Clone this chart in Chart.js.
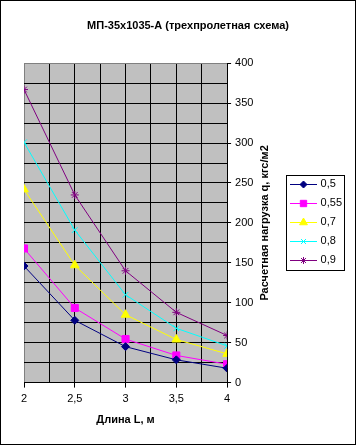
<!DOCTYPE html>
<html><head><meta charset="utf-8">
<style>html,body{margin:0;padding:0;background:#fff;overflow:hidden}</style>
<script src="https://cdn.jsdelivr.net/npm/chart.js@4/dist/chart.umd.min.js"></script>
</head><body>
<canvas id="c" width="356" height="445"></canvas>
<script>
const chartTitle = 'МП-35х1035-А (трехпролетная схема)';
const xTitle = 'Длина L, м';
const yTitle = 'Расчетная нагрузка q, кгс/м2';
const lengths = [2, 2.5, 3, 3.5, 4];
const seriesNames = ['0,5', '0,55', '0,7', '0,8', '0,9'];
const load05 = [146, 78, 45, 28.5, 18];
const load055 = [168, 93.5, 54.5, 34, 23];
const load07 = [242, 147, 85, 54, 36];
const load08 = [301, 191, 110, 68, 46];
const load09 = [367, 235, 140, 88, 59];
const seriesValues = [load05, load055, load07, load08, load09];
const seriesColors = ['#000080', '#FF00FF', '#FFFF00', '#00FFFF', '#800080'];
const seriesMarkers = ['rectRot', 'rect', 'triangle', 'crossRot', 'star'];
const seriesRadius = [4, 5, 5, 4, 4];
const FONT = "'Liberation Sans', Arial, sans-serif";

const datasets = seriesNames.map((name, i) => ({
  label: name,
  data: lengths.map((x, j) => ({x: x, y: seriesValues[i][j]})),
  borderColor: seriesColors[i],
  backgroundColor: seriesColors[i],
  pointBackgroundColor: seriesColors[i],
  pointBorderColor: seriesColors[i],
  pointStyle: seriesMarkers[i],
  pointRadius: seriesRadius[i],
  pointBorderWidth: 1,
  borderWidth: 1,
  tension: 0,
  fill: false
}));

const decor = {
  id: 'decor',
  beforeDraw(chart) {
    const ctx = chart.ctx, a = chart.chartArea;
    ctx.save();
    ctx.fillStyle = '#fff';
    ctx.fillRect(0, 0, chart.width, chart.height);
    ctx.fillStyle = '#C0C0C0';
    ctx.fillRect(a.left, a.top, a.right - a.left, a.bottom - a.top);
    ctx.restore();
  },
  afterDraw(chart) {
    const ctx = chart.ctx, a = chart.chartArea;
    ctx.save();
    ctx.fillStyle = '#000';
    ctx.font = 'bold 11px ' + FONT;
    ctx.textAlign = 'center';
    ctx.textBaseline = 'middle';
    ctx.translate(265, (a.top + a.bottom) / 2);
    ctx.rotate(-Math.PI / 2);
    ctx.fillText(yTitle, 0, 0);
    ctx.restore();
    const lg = chart.legend;
    if (lg && lg.legendHitBoxes && lg.legendHitBoxes.length) {
      const hbs = lg.legendHitBoxes;
      const bw = lg.options.labels.boxWidth;
      const fs = 11;
      ctx.save();
      const centers = hbs.map(h => Math.round(h.top + fs / 2) + 0.5);
      hbs.forEach((hb, i) => {
        const cy = centers[i];
        ctx.strokeStyle = seriesColors[i];
        ctx.lineWidth = 1;
        ctx.beginPath();
        ctx.moveTo(Math.round(hb.left), cy);
        ctx.lineTo(Math.round(hb.left) + bw + 2, cy);
        ctx.stroke();
        ctx.fillStyle = seriesColors[i];
        Chart.helpers.drawPoint(ctx, {pointStyle: seriesMarkers[i], radius: seriesRadius[i] - 0.5, borderWidth: 1, rotation: 0},
          Math.round(hb.left) + (bw + 2) / 2, cy);
      });
      const l = Math.round(Math.min(...hbs.map(h => h.left)) - 4) + 0.5;
      const r = Math.round(Math.max(...hbs.map(h => h.left + h.width)) + 2) + 0.5;
      const t = Math.round(centers[0] - 10) + 0.5;
      const btm = Math.round(centers[centers.length - 1] + 9) + 0.5;
      ctx.strokeStyle = '#000';
      ctx.strokeRect(l, t, r - l, btm - t);
      ctx.restore();
    }
    ctx.save();
    ctx.strokeStyle = '#000';
    ctx.lineWidth = 1;
    ctx.strokeRect(0.5, 0.5, chart.width - 1, chart.height - 1);
    ctx.restore();
  }
};

new Chart(document.getElementById('c'), {
  type: 'line',
  data: {datasets: datasets},
  plugins: [decor],
  options: {
    responsive: false,
    animation: false,
    devicePixelRatio: 1,
    layout: {padding: {left: 24, right: 4, top: 17, bottom: 18}},
    plugins: {
      tooltip: {enabled: false},
      title: {
        display: true, text: chartTitle, color: '#000',
        font: {family: FONT, size: 11, weight: 'bold'},
        padding: {top: 2, bottom: 31}
      },
      legend: {
        display: true, position: 'right', align: 'center',
        labels: {
          color: '#000', font: {family: FONT, size: 11}, boxWidth: 25, boxHeight: 11, padding: 8,
          generateLabels(chart) {
            return Chart.defaults.plugins.legend.labels.generateLabels(chart).map(it => Object.assign(it, {
              fillStyle: 'rgba(0,0,0,0)', strokeStyle: 'rgba(0,0,0,0)', lineWidth: 0
            }));
          }
        }
      }
    },
    scales: {
      x: {
        type: 'linear', min: 2, max: 4,
        ticks: {
          stepSize: 0.25, autoSkip: false, maxRotation: 0, padding: 5, color: '#000',
          font: {family: FONT, size: 11},
          callback: v => (Math.abs(v * 2 - Math.round(v * 2)) < 1e-6) ? String(v).replace('.', ',') : ''
        },
        grid: {
          color: c => (c.tick && c.tick.value === 2) ? '#808080' : '#000',
          tickColor: c => (c.tick && Math.abs(c.tick.value * 2 - Math.round(c.tick.value * 2)) < 1e-6) ? '#000' : 'rgba(0,0,0,0)',
          tickLength: 5, lineWidth: 1
        },
        border: {color: '#000', width: 1},
        title: {display: true, text: xTitle, color: '#000', font: {family: FONT, size: 11, weight: 'bold'}, padding: {top: 3, bottom: 0}}
      },
      y: {
        type: 'linear', position: 'right', min: 0, max: 400,
        ticks: {
          stepSize: 25, autoSkip: false, padding: 4, color: '#000',
          font: {family: FONT, size: 11},
          callback: v => (v % 50 === 0) ? String(v) : ''
        },
        grid: {
          color: c => (c.tick && c.tick.value === 400) ? '#808080' : '#000',
          tickColor: c => (c.tick && c.tick.value % 50 === 0) ? '#000' : 'rgba(0,0,0,0)',
          tickLength: 4, lineWidth: 1
        },
        border: {color: '#000', width: 1},
        afterFit(scale) { scale.width = 55; }
      }
    }
  }
});
</script>
</body></html>
